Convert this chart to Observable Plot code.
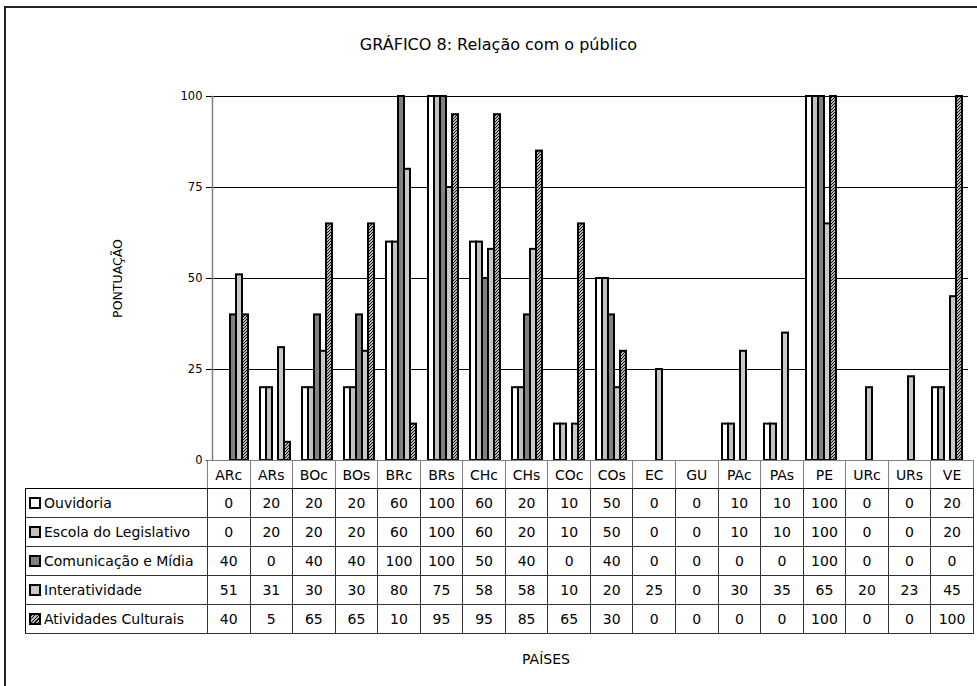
<!DOCTYPE html>
<html><head><meta charset="utf-8">
<script src="https://cdn.jsdelivr.net/npm/d3@7"></script>
<script src="https://cdn.jsdelivr.net/npm/@observablehq/plot@0.6"></script>
<style>
html,body{margin:0;padding:0;background:#fff;}
body{width:977px;height:686px;overflow:hidden;position:relative;font-family:"DejaVu Sans",sans-serif;color:#000;}
#border{position:absolute;left:4px;top:6px;width:1100px;height:800px;border:2px solid #222;box-sizing:border-box;}
#title{position:absolute;top:35px;left:0;width:997px;text-align:center;font-size:16px;}
#chart{position:absolute;left:0;top:0;}
#xlabel{position:absolute;top:651px;left:546px;transform:translateX(-50%);font-size:14px;}
#tbl{position:absolute;left:25px;top:460px;border-collapse:collapse;table-layout:fixed;font-size:14px;}
#tbl td{padding:0;text-align:center;white-space:nowrap;overflow:hidden;}
#tbl tr.head td{height:27px;border-left:1px solid #808080;border-right:1px solid #808080;border-top:1px solid #808080;border-bottom:1px solid #000;}
#tbl tr.head td.empty{border:none;border-bottom:1px solid #000;}
#tbl tr.body td{height:28px;border:1px solid #333;}
#tbl tr.body td.lab{text-align:left;border-left:1.5px solid #000;}
.sw{display:inline-block;width:8px;height:8px;border:2px solid #000;margin:0 3px 0 3px;vertical-align:-1px;}
</style>
</head><body>
<div id="border"></div>
<div id="title">GRÁFICO 8: Relação com o público</div>
<div id="chart"></div>
<table id="tbl"></table>
<div id="xlabel">PAÍSES</div>
<script>
const cats = ["ARc","ARs","BOc","BOs","BRc","BRs","CHc","CHs","COc","COs","EC","GU","PAc","PAs","PE","URc","URs","VE"];
const series = ["Ouvidoria","Escola do Legislativo","Comunicação e Mídia","Interatividade","Atividades Culturais"];
const ouvidoria      = [0,20,20,20,60,100,60,20,10,50,0,0,10,10,100,0,0,20];
const escola         = [0,20,20,20,60,100,60,20,10,50,0,0,10,10,100,0,0,20];
const comunicacao    = [40,0,40,40,100,100,50,40,0,40,0,0,0,0,100,0,0,0];
const interatividade = [51,31,30,30,80,75,58,58,10,20,25,0,30,35,65,20,23,45];
const atividades     = [40,5,65,65,10,95,95,85,65,30,0,0,0,0,100,0,0,100];
const yTicks = [0,25,50,75,100];
const fills = ["#ffffff","#c0c0c0","#808080","#c8c8c8","url(#hatch)"];

const values = [ouvidoria, escola, comunicacao, interatividade, atividades];
const rows = [];
cats.forEach((c,i)=>series.forEach((s,j)=>rows.push({cat:c, series:s, value:values[j][i]})));

const chart = Plot.plot({
  width: 977, height: 461,
  marginLeft: 207, marginRight: 4, marginTop: 96, marginBottom: 1,
  style: {fontFamily: "DejaVu Sans", fontSize: "11.5px", background: "transparent", overflow: "visible"},
  fx: {domain: cats, padding: 0, axis: null},
  x: {domain: series, paddingInner: 0, paddingOuter: 0.6, axis: null},
  y: {domain: [0,100]},
  color: {domain: series, range: fills},
  marks: [
    Plot.barY(rows, {fx: "cat", x: "series", y: "value", fill: "none", stroke: "none"}),
    Plot.gridY(yTicks.slice(1), {stroke: "#000", strokeOpacity: 1, strokeWidth: 1}),
    Plot.axisY(yTicks, {tickSize: 6, tickPadding: 4, label: null, fontSize: 11.5}),
    Plot.axisY([], {tickSize: 0, label: "PONTUAÇÃO", labelAnchor: "center", labelOffset: 99, labelArrow: "none", fontSize: 12.5}),
    Plot.barY(rows.filter(d=>d.value>0), {fx: "cat", x: "series", y: "value", fill: "series", stroke: "#000", strokeWidth: 2}),
    Plot.frame({anchor: "left", stroke: "#808080", strokeWidth: 1.5, facetAnchor: "left"})
  ]
});
const defs = document.createElementNS("http://www.w3.org/2000/svg","defs");
defs.innerHTML = '<pattern id="hatch" patternUnits="userSpaceOnUse" width="3" height="3"><rect width="3" height="3" fill="#b8b8b8"/><path d="M-1,1 L1,-1 M0,3 L3,0 M2,4 L4,2" stroke="#101010" stroke-width="1"/></pattern>';
chart.insertBefore(defs, chart.firstChild);
document.getElementById("chart").appendChild(chart);

// table
const tbl = d3.select("#tbl");
const colg = tbl.append("colgroup");
colg.append("col").style("width","182px");
cats.forEach(()=>colg.append("col").style("width", (766/cats.length)+"px"));
const head = tbl.append("tr").attr("class","head");
head.append("td").attr("class","empty");
cats.forEach(c=>head.append("td").text(c));
series.forEach((s,j)=>{
  const tr = tbl.append("tr").attr("class","body");
  const lab = tr.append("td").attr("class","lab");
  const sw = lab.append("span").attr("class","sw");
  if (j===4) {
    sw.style("background","repeating-linear-gradient(135deg,#101010 0 1px,#b8b8b8 1px 2.5px)");
  } else sw.style("background", fills[j]);
  lab.append("span").text(s);
  cats.forEach((c,i)=>tr.append("td").text(values[j][i]));
});
</script>
</body></html>
